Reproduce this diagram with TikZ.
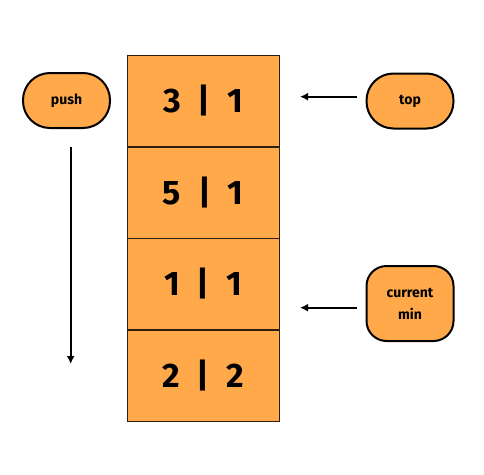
\documentclass[tikz,border=0pt]{standalone}
\usepackage{fontspec}
\setmainfont{Fira Sans}
\usetikzlibrary{arrows.meta}
\definecolor{boxfill}{RGB}{255,169,74}
\definecolor{boxline}{RGB}{45,30,15}
\begin{document}
\begin{tikzpicture}[x=1pt,y=-1pt,
  cell/.style={draw=boxline,line width=1.5pt,fill=boxfill,minimum width=152pt,minimum height=91.5pt,inner sep=0pt,font=\fontsize{34}{40}\selectfont\bfseries},
  pill/.style={draw=black,line width=2pt,fill=boxfill,inner sep=0pt,minimum width=87pt,minimum height=55pt,rounded corners=27pt,font=\fontsize{14}{17}\selectfont\bfseries,align=center},
  arr/.style={-{Latex[length=8pt,width=8pt]},line width=2pt,black}]
\useasboundingbox (0,0) rectangle (484,474);
\node[cell] (c1) at (203.3,101) {3\,\,\,|\,\,\,1};
\node[cell] (c2) at (203.3,192.5) {5\,\,\,|\,\,\,1};
\node[cell] (c3) at (203.3,284) {1\,\,\,|\,\,\,1};
\node[cell] (c4) at (203.3,375.5) {2\,\,\,|\,\,\,2};
\node[pill] (push) at (66.5,100.5) {push};
\node[pill] (top) at (410,101) {top};
\node[pill,minimum height=75pt,rounded corners=20pt,font=\fontsize{14}{22}\selectfont\bfseries] (min) at (410,303.5) {current\\min};
\coordinate (ps) at (70.7,147);
\coordinate (pe) at (70.7,364);
\coordinate (ts) at (357,96.7);
\coordinate (te) at (300,96.7);
\coordinate (ms) at (357,307.7);
\coordinate (me) at (300,307.7);
\draw[arr] (ps) -- (pe);
\draw[arr] (ts) -- (te);
\draw[arr] (ms) -- (me);
\end{tikzpicture}
\end{document}
